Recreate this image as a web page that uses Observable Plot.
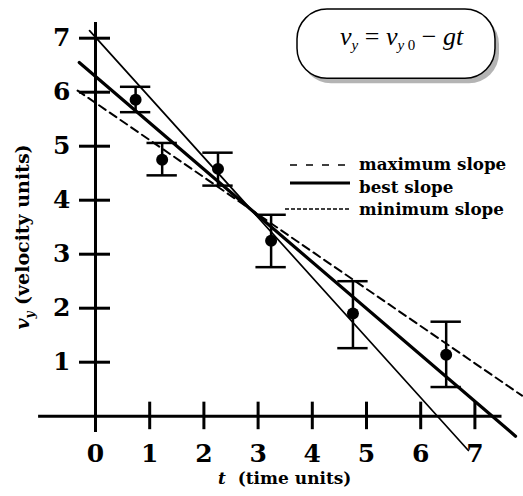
<!DOCTYPE html>
<html><head><meta charset="utf-8">
<script src="https://cdn.jsdelivr.net/npm/d3@7"></script>
<script src="https://cdn.jsdelivr.net/npm/@observablehq/plot@0.6"></script>
<style>html,body{margin:0;padding:0;background:#fff} svg{display:block}</style>
</head><body><div id="chart"></div>
<script>
// measured data (t in time units, v in velocity units)
const times      = [0.74, 1.23, 2.26, 3.24, 4.75, 6.47];
const velocities = [5.86, 4.75, 4.58, 3.25, 1.90, 1.14];
const errLow     = [5.63, 4.46, 4.27, 2.76, 1.26, 0.54];
const errHigh    = [6.10, 5.06, 4.88, 3.73, 2.50, 1.75];

// fitted lines (end points)
const steepT = [-0.11, 6.88];
const steepV = [7.14, -0.635];
const bestT  = [-0.30, 7.75];
const bestV  = [6.55, -0.37];
const dashT  = [-0.33, 7.87];
const dashV  = [6.03, 0.38];

const xTicks = [0, 1, 2, 3, 4, 5, 6, 7];
const yTicks = [1, 2, 3, 4, 5, 6, 7];
const legendLabels = ["maximum slope", "best slope", "minimum slope"];

const points = times.map((t, i) => ({t, v: velocities[i], lo: errLow[i], hi: errHigh[i]}));
const toLine = (T, V) => T.map((t, i) => ({t, v: V[i]}));

const serif = "DejaVu Serif";
const capHalf = 0.28;

const plot = Plot.plot({
  width: 523, height: 496,
  marginTop: 0, marginRight: 0, marginBottom: 0, marginLeft: 0,
  x: {domain: [0, 7], range: [95, 474.4], axis: null},
  y: {domain: [0, 7], range: [415.7, 37.7], axis: null},
  style: {background: "#fff", overflow: "visible"},
  marks: [
    // equation box (shadow + box)
    Plot.rect([0], {x1: 3.727, x2: 7.38, y1: 7.53, y2: 6.25, fill: "#b4b4b4", rx: 30, dx: 4, dy: 5}),
    Plot.rect([0], {x1: 3.727, x2: 7.38, y1: 7.53, y2: 6.25, fill: "#fff", stroke: "#000", strokeWidth: 1.5, rx: 30}),
    // axes
    Plot.ruleY([0], {x1: -1.05, x2: 7.5, stroke: "#000", strokeWidth: 3}),
    Plot.ruleX([0], {y1: -0.3, y2: 7.29, stroke: "#000", strokeWidth: 3}),
    Plot.ruleY(yTicks, {y: d => d, x1: -0.295, x2: 0.277, stroke: "#000", strokeWidth: 3}),
    Plot.ruleX(xTicks.slice(1), {x: d => d, y1: -0.25, y2: 0.26, stroke: "#000", strokeWidth: 3}),
    Plot.text(yTicks, {x: 0, y: d => d, text: d => String(d), dx: -25, textAnchor: "end",
      fontFamily: serif, fontWeight: "bold", fontSize: 25, fill: "#000"}),
    Plot.text(xTicks, {x: d => d, y: 0, text: d => String(d), dy: 38,
      fontFamily: serif, fontWeight: "bold", fontSize: 25, fill: "#000"}),
    // fitted lines
    Plot.line(toLine(steepT, steepV), {x: "t", y: "v", stroke: "#000", strokeWidth: 1.7}),
    Plot.line(toLine(bestT, bestV), {x: "t", y: "v", stroke: "#000", strokeWidth: 3.2}),
    Plot.line(toLine(dashT, dashV), {x: "t", y: "v", stroke: "#000", strokeWidth: 2, strokeDasharray: "8,5"}),
    // error bars
    Plot.ruleX(points, {x: "t", y1: "lo", y2: "hi", stroke: "#000", strokeWidth: 2.5}),
    Plot.ruleY(points, {y: "hi", x1: d => d.t - capHalf, x2: d => d.t + capHalf, stroke: "#000", strokeWidth: 2.5}),
    Plot.ruleY(points, {y: "lo", x1: d => d.t - capHalf, x2: d => d.t + capHalf, stroke: "#000", strokeWidth: 2.5}),
    Plot.dot(points, {x: "t", y: "v", r: 6, fill: "#000", stroke: "none"})
  ]
});

document.getElementById("chart").appendChild(plot);

const svg = d3.select(plot);

// equation
const eq = svg.append("text")
  .attr("x", 340).attr("y", 45).attr("text-anchor", "start")
  .attr("font-family", "Liberation Serif").attr("font-size", 26).attr("fill", "#000");
eq.append("tspan").attr("font-style", "italic").text("v");
eq.append("tspan").attr("font-style", "italic").attr("font-size", 15).attr("dy", 5).text("y");
eq.append("tspan").attr("dy", -5).text(" = ");
eq.append("tspan").attr("font-style", "italic").text("v");
eq.append("tspan").attr("font-style", "italic").attr("font-size", 15).attr("dy", 5).text("y");
eq.append("tspan").attr("font-size", 15).text(" 0");
eq.append("tspan").attr("dy", -5).text(" \u2212 ");
eq.append("tspan").attr("font-style", "italic").text("gt");

// legend
const legend = svg.append("g");
const legendY = [165, 183, 209];
const legendBase = [169.5, 193, 215];
const legendStyle = [
  {x1: 290, dash: "7,9", w: 1.6},
  {x1: 290, dash: null, w: 3},
  {x1: 285, dash: "4,2", w: 1.3}
];
legendLabels.forEach((lab, i) => {
  const s = legendStyle[i];
  legend.append("line").attr("x1", s.x1).attr("x2", 350).attr("y1", legendY[i]).attr("y2", legendY[i])
    .attr("stroke", "#000").attr("stroke-width", s.w).attr("stroke-dasharray", s.dash);
  legend.append("text").attr("x", 359).attr("y", legendBase[i]).attr("text-anchor", "start")
    .attr("font-family", serif).attr("font-weight", "bold").attr("font-size", 16.7).attr("fill", "#000")
    .text(lab);
});

// y axis title
const yt = svg.append("text")
  .attr("transform", "translate(29,237) rotate(-90)")
  .attr("text-anchor", "middle")
  .attr("font-family", serif).attr("font-weight", "bold").attr("font-size", 19).attr("fill", "#000");
yt.append("tspan").attr("font-style", "italic").text("v");
yt.append("tspan").attr("font-style", "italic").attr("font-size", 12).attr("dy", 5).text("y");
yt.append("tspan").attr("dy", -5).text(" (velocity units)");

// x axis title
const xt = svg.append("text")
  .attr("x", 218).attr("y", 484).attr("text-anchor", "start")
  .attr("font-family", serif).attr("font-weight", "bold").attr("font-size", 17).attr("fill", "#000");
xt.append("tspan").attr("font-style", "italic").text("t");
xt.append("tspan").text("  (time units)");
</script>
</body></html>
